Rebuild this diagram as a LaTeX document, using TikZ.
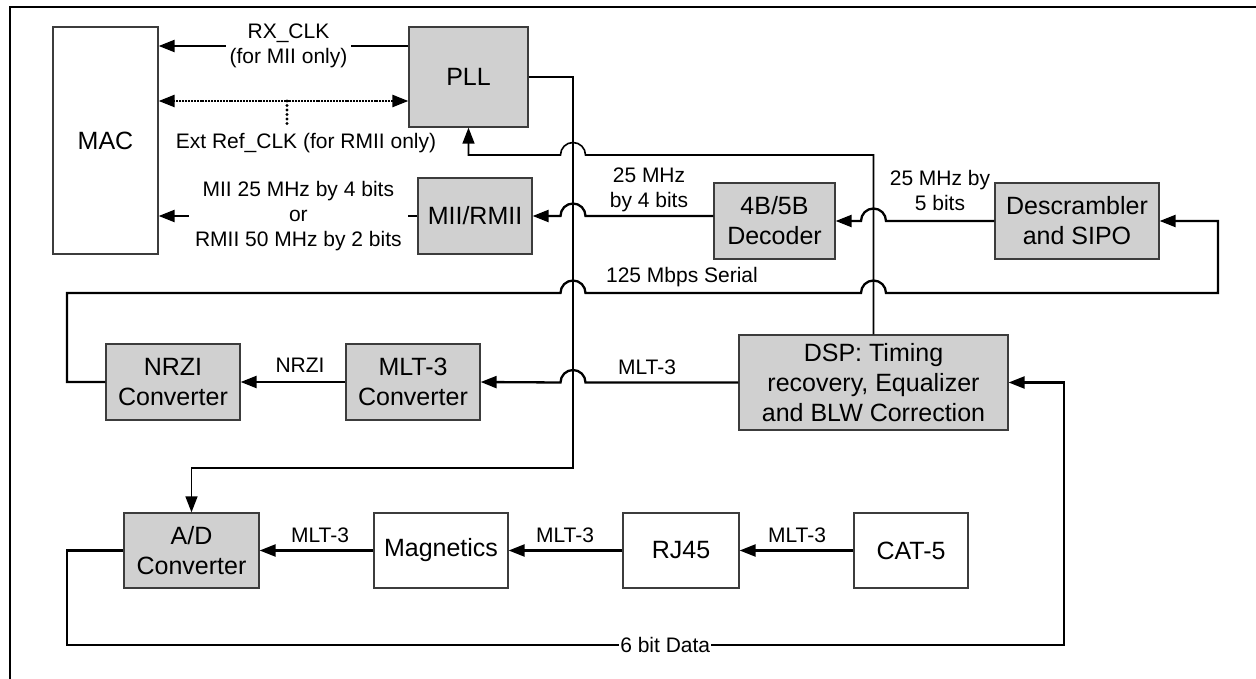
\documentclass[tikz,border=0pt]{standalone}
\usepackage{fontspec}
\setmainfont{Liberation Sans}
\usetikzlibrary{arrows.meta}
\definecolor{boxgray}{RGB}{208,208,208}
\definecolor{edgegray}{RGB}{60,60,60}
\begin{document}
\begin{tikzpicture}[x=1pt,y=-1pt,
  blk/.style={draw=edgegray,line width=1.3pt,fill=boxgray,align=center,inner sep=0pt,font=\fontsize{25}{30}\selectfont},
  wblk/.style={blk,fill=white},
  lbl/.style={align=center,inner sep=1pt,font=\fontsize{21}{25}\selectfont},
  tip/.tip={Triangle[length=16pt,width=12pt]},
  data/.style={line width=2.3pt,-tip},
  clk/.style={line width=1.6pt,-tip},
  dotln/.style={line width=2.5pt,dash pattern=on 2pt off 0.9pt,tip-tip},
  stubln/.style={line width=3.2pt,dash pattern=on 0pt off 4.5pt,line cap=round}]
\useasboundingbox (0,0) rectangle (1256,679);
\clip (0,0) rectangle (1256,679);
\draw[line width=2pt] (10,679) -- (10,7) -- (1256,7);

% blocks
\node[wblk,minimum width=105pt,minimum height=227pt] (MAC) at (105.5,140.5) {MAC};
\node[blk,minimum width=119pt,minimum height=100pt] (PLL) at (468.5,77) {PLL};
\node[blk,minimum width=114pt,minimum height=76pt] (MII) at (475,216) {MII/RMII};
\node[blk,minimum width=121pt,minimum height=76pt] (Dec) at (774.5,221) {4B/5B\\Decoder};
\node[blk,minimum width=164pt,minimum height=76pt] (Desc) at (1077,221) {Descrambler\\and SIPO};
\node[blk,minimum width=134pt,minimum height=76pt] (NRZI) at (173,382) {NRZI\\Converter};
\node[blk,minimum width=134pt,minimum height=76pt] (MLT) at (413,382) {MLT-3\\Converter};
\node[blk,minimum width=269pt,minimum height=95pt] (DSP) at (873.5,382.5) {DSP: Timing\\recovery, Equalizer\\and BLW Correction};
\node[blk,minimum width=135pt,minimum height=75pt] (AD) at (191.5,550.5) {A/D\\Converter};
\node[wblk,minimum width=134pt,minimum height=75pt] (Mag) at (441,550.5) {Magnetics};
\node[wblk,minimum width=116pt,minimum height=75pt] (RJ) at (681,550.5) {RJ45};
\node[wblk,minimum width=114pt,minimum height=75pt] (CAT) at (911,550.5) {CAT-5};

% labels
\node[lbl] (lExt) at (306,143) {Ext Ref\_CLK (for RMII only)};
\node[lbl] (l25a) at (649,190) {25 MHz\\by 4 bits};
\node[lbl] (l25b) at (940,190) {25 MHz by\\5 bits};
\node[lbl] (l125) at (682,277) {125 Mbps Serial};
\node[lbl] (lNRZI) at (300,365) {NRZI};
\node[lbl] (lMLTa) at (647,367) {MLT-3};
\node[lbl] (lM1) at (320,535) {MLT-3};
\node[lbl] (lM2) at (565,535) {MLT-3};
\node[lbl] (lM3) at (797,535) {MLT-3};

% helper coordinates
\coordinate (yRX) at (0,46);
\coordinate (yREF) at (0,101);
\coordinate (yFB) at (0,155);
\coordinate (ySER) at (0,293);
\coordinate (yCLK) at (0,468);
\coordinate (yBIT) at (0,645);
\coordinate (vx) at (573,0);
\coordinate (lx) at (67,0);
\coordinate (rx) at (1218,0);
\coordinate (bx) at (1064,0);
\coordinate (stub) at (287,101);
\coordinate (stubend) at (287,124);

% clock connections
\draw[data] (PLL.west |- yRX) -- node[lbl,fill=white,pos=0.48,inner sep=4pt]{RX\_CLK\\(for MII only)} (MAC.east |- yRX);
\draw[dotln] (PLL.west |- yREF) -- (MAC.east |- yREF);
\draw[stubln] (stub) -- (stubend);
\draw[clk] (PLL.east) -| (vx |- yCLK) -| (AD.north);
\draw[clk] (DSP.north) -- (DSP.north |- yFB)
  -- ([xshift=12.5pt]vx |- yFB) arc[start angle=0,end angle=180,radius=12.5pt]
  -- (PLL.south |- yFB) -- (PLL.south);

% data path
\draw[data] (MII.west) -- node[lbl,fill=white,pos=0.46,inner sep=6pt]{MII 25 MHz by 4 bits\\or\\RMII 50 MHz by 2 bits} (MII.west -| MAC.east);
\draw[data] (MII.east -| Dec.west)
  -- ([xshift=12.5pt]vx |- MII.east) arc[start angle=0,end angle=180,radius=12.5pt]
  -- (MII.east);
\draw[data] (Desc.west)
  -- ([xshift=12.5pt]DSP.north |- Desc.west) arc[start angle=0,end angle=180,radius=12.5pt]
  -- (Dec.east);
\draw[data] (NRZI.west) -| (lx |- ySER)
  -- ([xshift=-12.5pt]vx |- ySER) arc[start angle=180,end angle=0,radius=12.5pt]
  -- ([xshift=-12.5pt]DSP.north |- ySER) arc[start angle=180,end angle=0,radius=12.5pt]
  -- (rx |- ySER) |- (Desc.east);
\draw[data] (DSP.west)
  -- ([xshift=12.5pt]vx |- DSP.west) arc[start angle=0,end angle=180,radius=12.5pt]
  -- (MLT.east);
\draw[data] (MLT.west) -- (NRZI.east);
\draw[data] (Mag.west) -- (AD.east);
\draw[data] (RJ.west) -- (Mag.east);
\draw[data] (CAT.west) -- (RJ.east);
\draw[data] (AD.west) -| (lx |- yBIT)
  -- node[lbl,fill=white,pos=0.6]{6 bit Data} (bx |- yBIT) |- (DSP.east);
\end{tikzpicture}
\end{document}
